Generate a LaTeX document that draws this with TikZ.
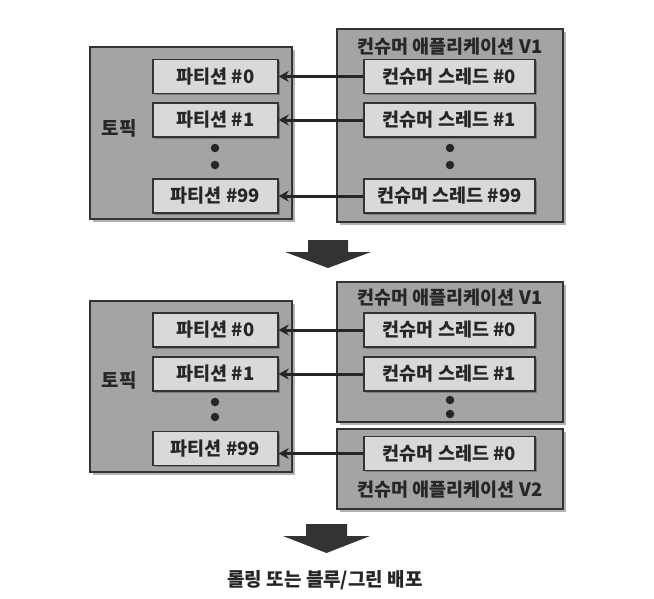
\documentclass[tikz,border=0pt]{standalone}
\usepackage{fontspec}
\setmainfont{Noto Sans CJK KR}
\usetikzlibrary{positioning,shadows,arrows.meta}

\definecolor{outergray}{HTML}{A4A4A4}
\definecolor{innergray}{HTML}{D9D9D9}
\definecolor{linegray}{HTML}{333333}

\tikzset{
  group/.style={draw=linegray, line width=1.8pt, fill=outergray, inner sep=0pt,
    drop shadow={shadow xshift=2.5pt, shadow yshift=-2.5pt, fill=black, opacity=0.3}},
  part/.style={draw=linegray, line width=1.4pt, fill=innergray, inner sep=0pt,
    minimum width=125pt, minimum height=34pt, font=\fontsize{18.5}{20}\selectfont\bfseries,
    text=black!85, drop shadow={shadow xshift=1.5pt, shadow yshift=-1.5pt, fill=black, opacity=0.25}},
  thread/.style={part, minimum width=171pt},
  label/.style={font=\fontsize{18.5}{20}\selectfont\bfseries, text=black!85},
  vdot/.style={circle, fill=black!85, inner sep=0pt, minimum size=8.5pt},
  feed/.style={line width=3pt, draw=black!85, -{Stealth[length=10pt,width=11pt]}},
  bigarrow/.style={fill=black!80}
}

\begin{document}
\begin{tikzpicture}[x=1pt,y=-1pt]
  \useasboundingbox (0,0) rectangle (654,598);

  % Before
  \node[group, minimum width=202pt, minimum height=172pt] (topicA) at (191,133) {};
  \node[group, minimum width=226pt, minimum height=193pt] (appA) at (450,125.5) {};
  \node[label, font=\fontsize{19}{20}\selectfont\bfseries] (topicAname) at (119,128) {토픽};
  \node[label] (appAname) at (450,47) {컨슈머 애플리케이션 V1};

  \node[part] (pA0) at (215.5,76.5) {파티션 \#0};
  \node[part] (pA1) at (215.5,120) {파티션 \#1};
  \node[part] (pA99) at (215.5,196) {파티션 \#99};
  \node[thread] (tA0) at (449.5,76.5) {컨슈머 스레드 \#0};
  \node[thread] (tA1) at (449.5,120) {컨슈머 스레드 \#1};
  \node[thread] (tA99) at (449.5,196) {컨슈머 스레드 \#99};

  \node[vdot] (pAd1) at (215,148) {};
  \node[vdot] (pAd2) at (215,165) {};
  \node[vdot] (tAd1) at (450,148) {};
  \node[vdot] (tAd2) at (450,165) {};

  \draw[feed] (tA0) -- (pA0);
  \draw[feed] (tA1) -- (pA1);
  \draw[feed] (tA99) -- (pA99);

  \fill[bigarrow] (308,240) -- (348,240) -- (348,252) -- (371,252)
    -- (328,268) -- (285,252) -- (308,252) -- cycle;

  % After
  \node[group, minimum width=202pt, minimum height=171pt] (topicB) at (191,386.5) {};
  \node[group, minimum width=226pt, minimum height=140pt] (appB) at (450,352) {};
  \node[group, minimum width=226pt, minimum height=80pt] (appC) at (450,469) {};
  \node[label, font=\fontsize{19}{20}\selectfont\bfseries] (topicBname) at (119,380) {토픽};
  \node[label] (appBname) at (450,298) {컨슈머 애플리케이션 V1};
  \node[label] (appCname) at (450,490) {컨슈머 애플리케이션 V2};

  \node[part] (pB0) at (215.5,330) {파티션 \#0};
  \node[part] (pB1) at (215.5,374) {파티션 \#1};
  \node[part] (pB99) at (215.5,448.5) {파티션 \#99};
  \node[thread] (tB0) at (449.5,330) {컨슈머 스레드 \#0};
  \node[thread] (tB1) at (449.5,374) {컨슈머 스레드 \#1};
  \node[thread] (tC0) at (449.5,453.5) {컨슈머 스레드 \#0};

  \node[vdot] (pBd1) at (215,402) {};
  \node[vdot] (pBd2) at (215,417) {};
  \node[vdot] (tBd1) at (450,400) {};
  \node[vdot] (tBd2) at (450,414) {};

  \draw[feed] (tB0) -- (pB0);
  \draw[feed] (tB1) -- (pB1);
  \draw[feed] (tC0.west) -- (tC0.west -| pB99.east);

  \fill[bigarrow] (306,524) -- (347,524) -- (347,536) -- (370,536)
    -- (326.5,553) -- (283,536) -- (306,536) -- cycle;
  \node[label, font=\fontsize{19}{20}\selectfont\bfseries] (deploy) at (325,580) {롤링 또는 블루/그린 배포};
\end{tikzpicture}
\end{document}
